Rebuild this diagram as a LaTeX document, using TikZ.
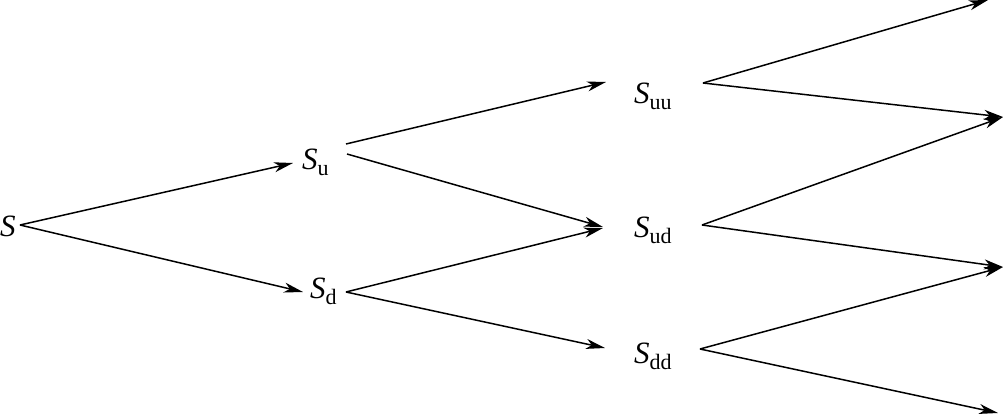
\documentclass[tikz,border=0pt]{standalone}
\usepackage{fontspec}
\setmainfont{Liberation Serif}
\usetikzlibrary{arrows.meta}
\begin{document}
\begin{tikzpicture}[x=1pt,y=-1pt,
  lbl/.style={anchor=base west,inner sep=0pt,font=\fontsize{31}{35}\selectfont},
  arr/.style={line width=1.5pt,-{Stealth[length=19pt,width=10pt,inset=5.5pt]}}]
\useasboundingbox (0,0) rectangle (1005,415);
\newcommand{\lsub}[1]{\textit{S}\raisebox{-0.2em}{\fontsize{22}{24}\selectfont #1}}
\node[lbl] (S) at (0,236) {\textit{S}};
\node[lbl] (Su) at (302,169) {\lsub{u}};
\node[lbl] (Sd) at (310,298) {\lsub{d}};
\node[lbl] (Suu) at (634,103) {\lsub{uu}};
\node[lbl] (Sud) at (634,237) {\lsub{ud}};
\node[lbl] (Sdd) at (634,363) {\lsub{dd}};
\coordinate (T1) at (988,0);
\coordinate (T2) at (1003,117);
\coordinate (T3) at (1003,267);
\coordinate (T4) at (998,413);
\draw[arr] ([shift={(20,-11)}]S.base west) -- ([shift={(-9,-6)}]Su.base west);
\draw[arr] ([shift={(20,-11)}]S.base west) -- ([shift={(-7,-6)}]Sd.base west);
\draw[arr] ([shift={(44,-25)}]Su.base west) -- ([shift={(-28,-21)}]Suu.base west);
\draw[arr] ([shift={(45,-15)}]Su.base west) -- ([shift={(-31,-10)}]Sud.base west);
\draw[arr] ([shift={(36,-6)}]Sd.base west) -- ([shift={(-31,-9)}]Sud.base west);
\draw[arr] ([shift={(36,-6)}]Sd.base west) -- ([shift={(-29,-15)}]Sdd.base west);
\draw[arr] ([shift={(69,-20)}]Suu.base west) -- (T1);
\draw[arr] ([shift={(69,-20)}]Suu.base west) -- (T2);
\draw[arr] ([shift={(68,-12)}]Sud.base west) -- (T2);
\draw[arr] ([shift={(68,-12)}]Sud.base west) -- (T3);
\draw[arr] ([shift={(66,-14)}]Sdd.base west) -- (T3);
\draw[arr] ([shift={(66,-14)}]Sdd.base west) -- (T4);
\end{tikzpicture}
\end{document}
